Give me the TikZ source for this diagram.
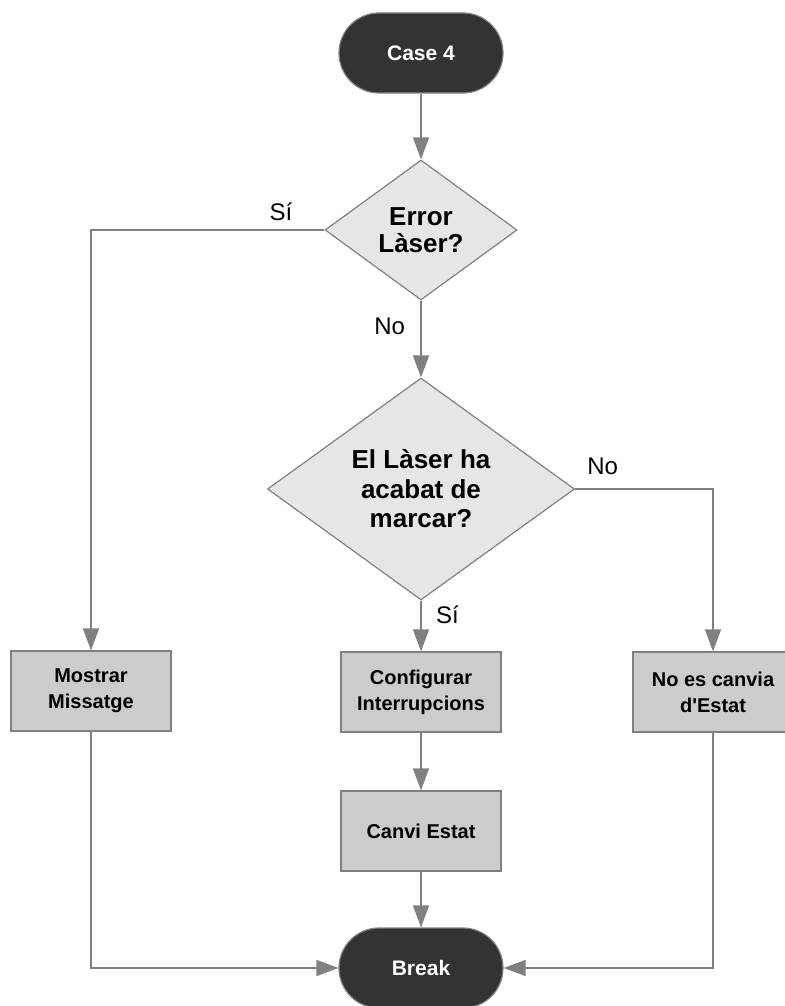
\documentclass[tikz,border=0pt]{standalone}
\usepackage{fontspec}
\setmainfont{Liberation Sans}
\usepackage{tikz}
\definecolor{termfill}{RGB}{51,51,51}
\definecolor{boxfill}{RGB}{204,204,204}
\definecolor{decfill}{RGB}{230,230,230}
\definecolor{linegray}{RGB}{128,128,128}
\usetikzlibrary{positioning,shapes.geometric,arrows.meta}

\begin{document}
\begin{tikzpicture}[x=1pt,y=-1pt,
  terminal/.style={draw=linegray, fill=termfill, text=white, line width=1.2pt,
    rounded corners=40pt, minimum width=164pt, minimum height=80pt,
    font=\fontsize{21}{26}\selectfont\bfseries},
  process/.style={draw=linegray, fill=boxfill, line width=1.2pt, align=center,
    minimum width=160pt, minimum height=80pt,
    font=\fontsize{20}{26}\selectfont\bfseries},
  decision/.style={diamond, draw=linegray, fill=decfill, line width=1.2pt,
    inner sep=0pt, align=center},
  flow/.style={draw=linegray, line width=1.4pt,
    -{Triangle[length=22pt,width=16pt]}},
  lbl/.style={font=\fontsize{24}{28}\selectfont, text=black}
]
\useasboundingbox (0,0) rectangle (784,1006);
\def\mid{421}

% start / end
\node[terminal] (case4) at (\mid,53) {Case 4};
\node[terminal] (brk) at (\mid,968) {Break};

% decisions
\node[decision, minimum width=192pt, minimum height=140pt,
  font=\fontsize{26}{27}\selectfont\bfseries] (err) at (\mid,230) {Error\\Làser?};
\node[decision, minimum width=307pt, minimum height=222pt,
  font=\fontsize{26}{29.5}\selectfont\bfseries] (laser) at (\mid,489)
  {El Làser ha\\acabat de\\marcar?};

% actions
\node[process] (msg) at (91,691) {Mostrar\\Missatge};
\node[process] (cfg) at (\mid,692) {Configurar\\Interrupcions};
\node[process] (nochg) at (713,692) {No es canvia\\d\textquotesingle Estat};
\node[process] (canvi) at (\mid,831) {Canvi Estat};

% connectors
\draw[flow] (case4) -- (err);
\draw[flow] (err.west) -| node[lbl, pos=0.06, above left, yshift=5pt] {Sí} (msg.north);
\draw[flow] (err) -- node[lbl, pos=0.33, left, xshift=-12pt] {No} (laser);
\draw[flow] (laser.east) -| node[lbl, pos=0.03, above right, yshift=10pt] {No} (nochg.north);
\draw[flow] (laser) -- node[lbl, pos=0.28, right, xshift=11pt] {Sí} (cfg);
\foreach \a/\b in {cfg/canvi, canvi/brk}
  \draw[flow] (\a) -- (\b);
\draw[flow] (msg.south) |- (brk.west);
\draw[flow] (nochg.south) |- (brk.east);
\end{tikzpicture}
\end{document}
